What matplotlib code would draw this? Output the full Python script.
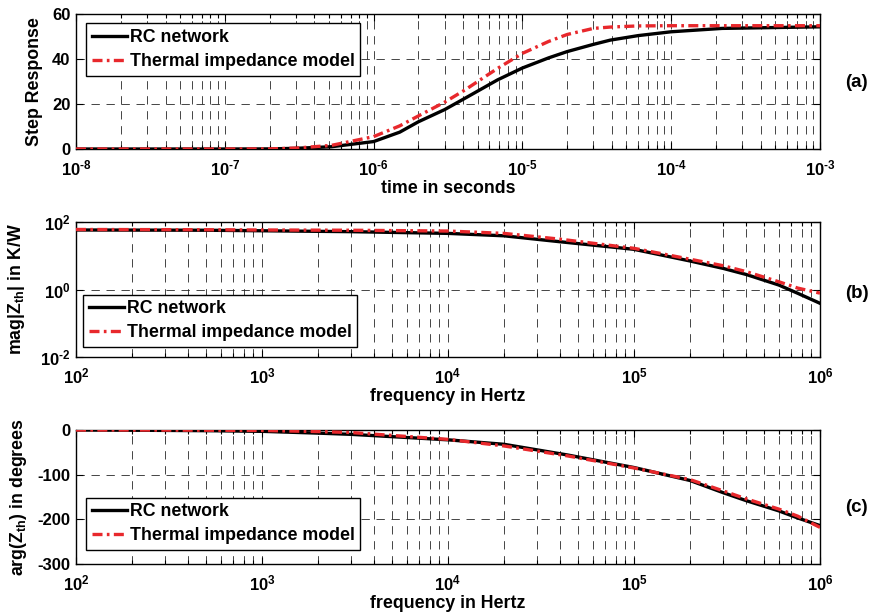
import numpy as np
import matplotlib
matplotlib.use("Agg")
import matplotlib.pyplot as plt
from matplotlib.ticker import FixedLocator, FixedFormatter, LogLocator, NullFormatter

plt.rcParams['font.family'] = ['Liberation Sans', 'DejaVu Sans']
plt.rcParams['font.weight'] = 'bold'
plt.rcParams['axes.unicode_minus'] = False
plt.rcParams['mathtext.fontset'] = 'custom'
plt.rcParams['mathtext.rm'] = 'Liberation Sans:bold'
plt.rcParams['mathtext.it'] = 'Liberation Sans:bold'
plt.rcParams['mathtext.bf'] = 'Liberation Sans:bold'

# (a) step response
t_sec = [1e-8, 1e-7, 2e-7, 3e-7, 5.2e-7, 1e-6, 1.5e-6, 2e-6, 3e-6, 4.1e-6, 6.8e-6,
         1e-5, 1.5e-5, 2e-5, 3e-5, 3.9e-5, 6e-5, 1e-4, 2.2e-4, 1e-3]
step_rc = [0.0, 0.0, 0.05, 0.3, 1.0, 3.3, 7.5, 12.1, 17.5, 22.5, 30.7,
           36.0, 40.5, 43.3, 46.5, 48.4, 50.4, 52.1, 53.6, 54.3]
step_model = [0.0, 0.0, 0.05, 0.4, 1.6, 5.5, 10.3, 14.7, 20.8, 26.2, 35.8,
              42.5, 47.8, 50.9, 53.6, 54.2, 54.7, 54.8, 54.8, 54.8]

# (b) impedance magnitude
f_mag = [1e2, 5e2, 1e3, 3e3, 1e4, 2e4, 4e4, 1e5, 2e5, 3e5, 4e5, 6e5, 7.6e5, 1e6]
mag_rc = [58, 57, 55, 51.7, 46, 39, 26, 15.5, 7.0, 4.25, 2.8, 1.36, 0.77, 0.39]
mag_model = [60, 59, 58, 57, 54, 46, 31, 16.6, 7.9, 5.1, 3.4, 1.7, 1.1, 0.78]

# (c) impedance phase
f_arg = [1e2, 2e2, 5e2, 1e3, 2e3, 3e3, 1e4, 2e4, 4.4e4, 1e5, 2e5, 3e5, 4e5, 6e5, 7.6e5, 1e6]
arg_rc = [0, -0.5, -1.5, -3, -7, -9.7, -22, -32, -56, -84, -113, -140, -158, -181, -197, -214]
arg_model = [0, 0, -0.5, -1, -3.5, -5.6, -21, -35.7, -58, -85, -111, -136, -154, -177, -193, -218]

labels = ['RC network', 'Thermal impedance model']
panel_tags = ['(a)', '(b)', '(c)']

time_ticks = [1e-8, 1e-7, 1e-6, 1e-5, 1e-4, 1e-3]
time_ticklabels = [r'$10^{\text{-}8}$', r'$10^{\text{-}7}$', r'$10^{\text{-}6}$',
                   r'$10^{\text{-}5}$', r'$10^{\text{-}4}$', r'$10^{\text{-}3}$']
freq_ticks = [1e2, 1e3, 1e4, 1e5, 1e6]
freq_ticklabels = [r'$10^{2}$', r'$10^{3}$', r'$10^{4}$', r'$10^{5}$', r'$10^{6}$']
step_ticks = [0, 20, 40, 60]
mag_ticks = [1e-2, 1e0, 1e2]
mag_ticklabels = [r'$10^{\text{-}2}$', r'$10^{0}$', r'$10^{2}$']
arg_ticks = [0, -100, -200, -300]

RED = '#e8282c'
GRID = '#262626'
W, H = 877, 616
fig = plt.figure(figsize=(W / 100, H / 100), dpi=100)


def make_axes(top, bottom):
    left, right = 76, 820
    return fig.add_axes([left / W, 1 - bottom / H, (right - left) / W, (bottom - top) / H])


def style(ax, xticks, xticklabels):
    ax.set_xscale('log')
    ax.xaxis.set_major_locator(FixedLocator(xticks))
    ax.xaxis.set_major_formatter(FixedFormatter(xticklabels))
    ax.xaxis.set_minor_locator(LogLocator(base=10, subs=np.arange(2, 10)))
    ax.xaxis.set_minor_formatter(NullFormatter())
    ax.set_xlim(xticks[0], xticks[-1])
    ax.tick_params(which='both', direction='in', top=True, right=True,
                   labelsize=12, width=0.8)
    ax.tick_params(which='major', length=5, pad=4)
    ax.tick_params(axis='x', which='major', pad=7)
    ax.tick_params(which='minor', length=3)
    ax.grid(True, which='major', axis='both', color=GRID, lw=0.6, ls=(0, (10, 8)))
    ax.grid(True, which='minor', axis='x', color=GRID, lw=0.6, ls=(0, (10, 8)))
    for s in ax.spines.values():
        s.set_linewidth(1.0)
    ax.set_axisbelow(True)


def draw_lines(ax, x, y1, y2):
    ax.plot(x, y1, color='black', lw=2.4, label=labels[0], zorder=3)
    ax.plot(x, y2, color=RED, lw=2.4, dashes=(3, 1.3, 0.8, 1.3), label=labels[1], zorder=4)


def legend(ax, loc, anchor):
    lg = ax.legend(loc=loc, bbox_to_anchor=anchor, borderaxespad=0, fancybox=False,
                   framealpha=1, edgecolor='black', fontsize=12.8, handlelength=2.0,
                   handletextpad=0.15, labelspacing=0.4, borderpad=0.32)
    lg.get_frame().set_linewidth(1.0)
    lg.set_zorder(10)


def tag(ax, y, text):
    ax.text(1.034, y, text, transform=ax.transAxes, fontsize=13.5,
            fontweight='bold', va='center', ha='left')


# (a)
ax1 = make_axes(14, 149)
style(ax1, time_ticks, time_ticklabels)
draw_lines(ax1, t_sec, step_rc, step_model)
ax1.set_ylim(0, 60)
ax1.set_yticks(step_ticks)
ax1.set_ylabel('Step Response', fontsize=12.8, fontweight='bold')
ax1.set_xlabel('time in seconds', fontsize=12.8, fontweight='bold', labelpad=1)
ax1.yaxis.set_label_coords(-0.044, 0.5)
legend(ax1, 'upper left', (0.0134, 0.933))
tag(ax1, 0.496, panel_tags[0])

# (b)
ax2 = make_axes(222, 357)
style(ax2, freq_ticks, freq_ticklabels)
draw_lines(ax2, f_mag, mag_rc, mag_model)
ax2.set_yscale('log')
ax2.set_ylim(1e-2, 1e2)
ax2.yaxis.set_major_locator(FixedLocator(mag_ticks))
ax2.yaxis.set_major_formatter(FixedFormatter(mag_ticklabels))
ax2.yaxis.set_minor_locator(FixedLocator([]))
ax2.set_ylabel(r'mag|Z$_{th}$| in K/W', fontsize=12.8, fontweight='bold')
ax2.set_xlabel('frequency in Hertz', fontsize=12.8, fontweight='bold', labelpad=1)
ax2.yaxis.set_label_coords(-0.066, 0.5)
legend(ax2, 'lower left', (0.0094, 0.074))
tag(ax2, 0.467, panel_tags[1])

# (c)
ax3 = make_axes(430, 564)
style(ax3, freq_ticks, freq_ticklabels)
draw_lines(ax3, f_arg, arg_rc, arg_model)
ax3.set_ylim(-300, 0)
ax3.set_yticks(arg_ticks)
ax3.set_ylabel(r'arg(Z$_{th}$) in degrees', fontsize=12.8, fontweight='bold')
ax3.set_xlabel('frequency in Hertz', fontsize=12.8, fontweight='bold', labelpad=1)
ax3.yaxis.set_label_coords(-0.063, 0.5)
legend(ax3, 'lower left', (0.0134, 0.104))
tag(ax3, 0.425, panel_tags[2])

fig.savefig('out.png', dpi=100, facecolor='white')
